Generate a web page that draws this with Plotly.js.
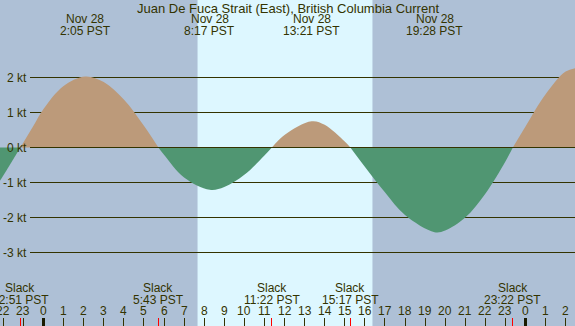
<!DOCTYPE html>
<html><head><meta charset="utf-8">
<script src="https://cdn.plot.ly/plotly-3.0.1.min.js"></script>
<style>html,body{margin:0;padding:0;background:#aec0d6}#chart{width:575px;height:326px}</style>
</head><body><div id="chart"></div>
<script>
const titleText = 'Juan De Fuca Strait (East), British Columbia Current';
// current (kt) vs hours since Nov 28 00:00 PST
const ebb0T = [-2.17, -2, -1.15];
const ebb0V = [-0.95, -0.8, 0];
const flood1T = [-1.15, -0.5, 0, 1, 2.08, 3, 4, 5, 5.72];
const flood1V = [0, 0.62, 1.1, 1.76, 2.03, 1.87, 1.37, 0.62, 0];
const ebb1T = [5.72, 6, 7, 8.28, 9, 10, 11, 11.37];
const ebb1V = [0, -0.21, -0.86, -1.21, -1.13, -0.78, -0.23, 0];
const flood2T = [11.37, 12, 13.35, 14, 15, 15.28];
const flood2V = [0, 0.36, 0.75, 0.65, 0.17, 0];
const ebb2T = [15.28, 16, 17, 18, 19.47, 20, 21, 22, 23, 23.37];
const ebb2V = [0, -0.55, -1.28, -1.93, -2.42, -2.37, -2.0, -1.32, -0.4, 0];
const flood3T = [23.37, 24, 25, 26, 26.62];
const flood3V = [0, 0.6, 1.52, 2.17, 2.28];

// max current events
const maxT = [2.08, 8.28, 13.35, 19.47, 26.62];
const maxDate = ['Nov 28', 'Nov 28', 'Nov 28', 'Nov 28', 'Nov 29'];
const maxTime = ['2:05 PST', '8:17 PST', '13:21 PST', '19:28 PST', '2:37 PST'];
// slack events
const slackT = [-1.15, 5.72, 11.37, 15.28, 23.37];
const slackTime = ['22:51 PST', '5:43 PST', '11:22 PST', '15:17 PST', '23:22 PST'];
// daylight
const sunrise = 7.67, sunset = 16.38;
// hour axis
const hourVals = [-2,-1,0,1,2,3,4,5,6,7,8,9,10,11,12,13,14,15,16,17,18,19,20,21,22,23,24,25,26];
const hourText = ['22','23','0','1','2','3','4','5','6','7','8','9','10','11','12','13','14','15','16','17','18','19','20','21','22','23','0','1','2'];
const midnightVals = [0, 24];
const ktVals = [2, 1, 0, -1, -2, -3];
const ktText = ['2 kt', '1 kt', '0 kt', '-1 kt', '-2 kt', '-3 kt'];

const FLOOD = '#bc9a7a', EBB = '#509672', NIGHT = '#aec0d6', DAY = '#ddf7ff', INK = '#333300';
const FONT = {family: 'Liberation Sans, Arial, sans-serif', size: 12, color: INK};
const TFONT = {family: 'Liberation Sans, Arial, sans-serif', size: 13, color: INK};

function lobe(t, v, c) {
  return {x: t, y: v, type: 'scatter', mode: 'lines', fill: 'tozeroy', fillcolor: c,
    line: {width: 0, shape: 'spline', smoothing: 1, color: c}, hoverinfo: 'skip', showlegend: false};
}
const data = [
  lobe(ebb0T, ebb0V, EBB), lobe(flood1T, flood1V, FLOOD), lobe(ebb1T, ebb1V, EBB),
  lobe(flood2T, flood2V, FLOOD), lobe(ebb2T, ebb2V, EBB), lobe(flood3T, flood3V, FLOOD)
];

const shapes = [{type: 'rect', xref: 'x', yref: 'paper', x0: sunrise, x1: sunset, y0: 0, y1: 1,
  fillcolor: DAY, line: {width: 0}, layer: 'below'}];
ktVals.forEach(k => shapes.push({type: 'line', xref: 'paper', yref: 'y', x0: 30/575, x1: 1, y0: k, y1: k,
  line: {color: INK, width: 1}, layer: k === 0 ? 'above' : 'below'}));

const ann = [];
ann.push({text: titleText, xref: 'paper', yref: 'paper', x: 0.5, y: 1, yanchor: 'middle', yshift: -8, showarrow: false, font: TFONT});
maxT.forEach((t, i) => {
  ann.push({text: maxDate[i], xref: 'x', yref: 'paper', x: t, y: 1, yanchor: 'middle', yshift: -19, showarrow: false, font: FONT});
  ann.push({text: maxTime[i], xref: 'x', yref: 'paper', x: t, y: 1, yanchor: 'middle', yshift: -31, showarrow: false, font: FONT});
});
slackT.forEach((t, i) => {
  ann.push({text: 'Slack', xref: 'x', yref: 'paper', x: t, y: 0, yanchor: 'middle', yshift: 38, showarrow: false, font: FONT});
  ann.push({text: slackTime[i], xref: 'x', yref: 'paper', x: t, y: 0, yanchor: 'middle', yshift: 26, showarrow: false, font: FONT});
});
hourVals.forEach((h, i) => ann.push({text: hourText[i], xref: 'x', yref: 'paper', x: h, y: 0, yanchor: 'middle', yshift: 15, showarrow: false, font: FONT}));
ktVals.forEach((k, i) => ann.push({text: ktText[i], xref: 'paper', yref: 'y', x: 0, y: k, xanchor: 'right', xshift: 29, showarrow: false, font: FONT}));

const xBase = {range: [-2.166, 26.465], showgrid: false, zeroline: false, showline: false,
  showticklabels: false, ticks: 'inside', ticklen: 8, tickmode: 'array', fixedrange: true};
const layout = {
  width: 575, height: 326, margin: {l: 0, r: 0, t: 0, b: 0},
  paper_bgcolor: NIGHT, plot_bgcolor: NIGHT, font: FONT, showlegend: false,
  xaxis: Object.assign({}, xBase, {tickvals: hourVals, tickwidth: 1, tickcolor: INK}),
  xaxis2: Object.assign({}, xBase, {overlaying: 'x', anchor: 'y', side: 'bottom', tickvals: midnightVals, tickwidth: 3, tickcolor: '#1a1a00'}),
  xaxis3: Object.assign({}, xBase, {overlaying: 'x', anchor: 'y', side: 'bottom', tickvals: slackT, tickwidth: 1, tickcolor: '#ff0000'}),
  yaxis: {range: [-5.1, 4.2143], showgrid: false, zeroline: false, showline: false, showticklabels: false, fixedrange: true},
  shapes: shapes, annotations: ann
};
// invisible traces that activate the overlay axes
data.push({x: [0], y: [0], xaxis: 'x2', type: 'scatter', mode: 'markers', marker: {opacity: 0}, hoverinfo: 'skip'});
data.push({x: [0], y: [0], xaxis: 'x3', type: 'scatter', mode: 'markers', marker: {opacity: 0}, hoverinfo: 'skip'});
Plotly.newPlot('chart', data, layout, {staticPlot: true});
</script></body></html>
